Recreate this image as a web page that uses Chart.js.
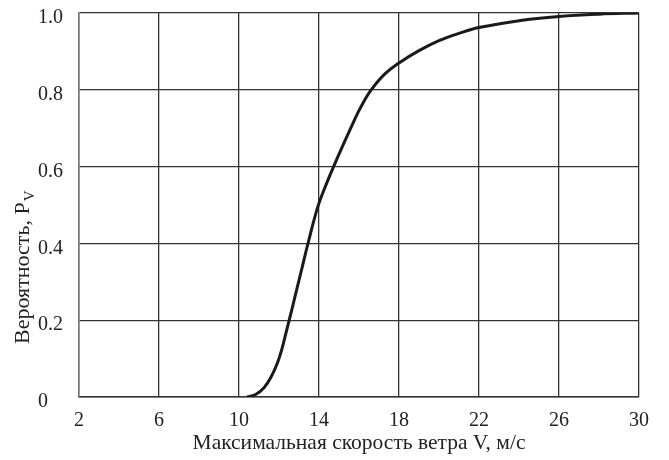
<!DOCTYPE html>
<html>
<head>
<meta charset="utf-8">
<script src="https://cdn.jsdelivr.net/npm/chart.js@4.4.0/dist/chart.umd.min.js"></script>
<style>
     body { margin: 0; background: #fff; }
     canvas { display: block; }
</style>
</head>
<body>
<canvas id="probChart" width="669" height="460"></canvas>
<script>
// wind speed, m/s
const speed = [10.4, 10.85, 11.26, 11.59, 11.93, 12.17, 12.34, 12.51, 12.76, 13.09, 13.45, 13.95, 14.37, 14.73, 15.2, 15.61, 15.94, 16.28, 16.61, 17.27, 18.0, 19.0, 20.0, 21.0, 22.0, 24.0, 26.0, 28.0, 30.0];
// probability P_V
const prob = [0, 0.007, 0.025, 0.051, 0.09, 0.13, 0.165, 0.2, 0.253, 0.323, 0.4, 0.497, 0.555, 0.6, 0.656, 0.703, 0.74, 0.773, 0.8, 0.84, 0.870, 0.902, 0.928, 0.947, 0.962, 0.98, 0.991, 0.997, 1.0];

const xTicks = [2, 6, 10, 14, 18, 22, 26, 30];
const yTicks = [0, 0.2, 0.4, 0.6, 0.8, 1.0];

const xTitle = "Максимальная скорость ветра V, м/с";
const yTitle = "Вероятность, P";
const ySub = "V";

const serif = "'Liberation Serif', 'DejaVu Serif', serif";

// y axis title with subscript, drawn by hand
const yTitlePlugin = {
     id: 'yTitle',
     afterDraw(chart) {
          const ctx = chart.ctx;
          ctx.save();
          ctx.fillStyle = '#222';
          // bottom end of the text sits at y = 344
          ctx.translate(29, 344);
          ctx.rotate(-Math.PI / 2);
          ctx.textBaseline = 'alphabetic';
          ctx.textAlign = 'left';
          ctx.font = "22px " + serif;
          const w1 = ctx.measureText(yTitle).width;
          ctx.fillText(yTitle, 0, 0);
          ctx.font = "15px " + serif;
          ctx.fillText(ySub, w1 + 1, 5);
          ctx.restore();
     }
};

const points = speed.map((v, i) => ({ x: v, y: prob[i] }));

new Chart(document.getElementById('probChart').getContext('2d'), {
     type: 'line',
     data: {
          datasets: [{
               data: points,
               borderColor: '#1a1a1a',
               borderWidth: 3,
               pointRadius: 0,
               fill: false,
               tension: 0.4
          }]
     },
     options: {
          responsive: false,
          animation: false,
          layout: { autoPadding: false, padding: { left: 38, right: 30, top: 13, bottom: 0 } },
          plugins: {
               legend: { display: false },
               tooltip: { enabled: false }
          },
          scales: {
               x: {
                    type: 'linear',
                    min: 2,
                    max: 30,
                    afterBuildTicks: axis => { axis.ticks = xTicks.map(v => ({ value: v })); },
                    afterFit: axis => { axis.height = 63; },
                    grid: { color: '#333', lineWidth: 1.3, drawTicks: false },
                    border: { color: '#333', width: 1.5 },
                    ticks: {
                         color: '#222',
                         padding: 14,
                         maxRotation: 0,
                         font: { family: serif, size: 20, lineHeight: 1 }
                    },
                    title: {
                         display: true,
                         text: xTitle,
                         color: '#222',
                         padding: { top: 0, bottom: 6 },
                         font: { family: serif, size: 21.5, lineHeight: 1 }
                    }
               },
               y: {
                    min: 0,
                    max: 1,
                    afterBuildTicks: axis => { axis.ticks = yTicks.map(v => ({ value: v })); },
                    afterFit: axis => { axis.paddingTop = 0; axis.paddingBottom = 0; },
                    grid: { color: '#333', lineWidth: 1.3, drawTicks: false },
                    border: { color: '#777', width: 1.5 },
                    ticks: {
                         color: '#222',
                         padding: 8,
                         crossAlign: 'far',
                         labelOffset: 5,
                         font: { family: serif, size: 20 },
                         callback: v => v === 0 ? '0' : v.toFixed(1)
                    }
               }
          }
     },
     plugins: [yTitlePlugin]
});
</script>
</body>
</html>
